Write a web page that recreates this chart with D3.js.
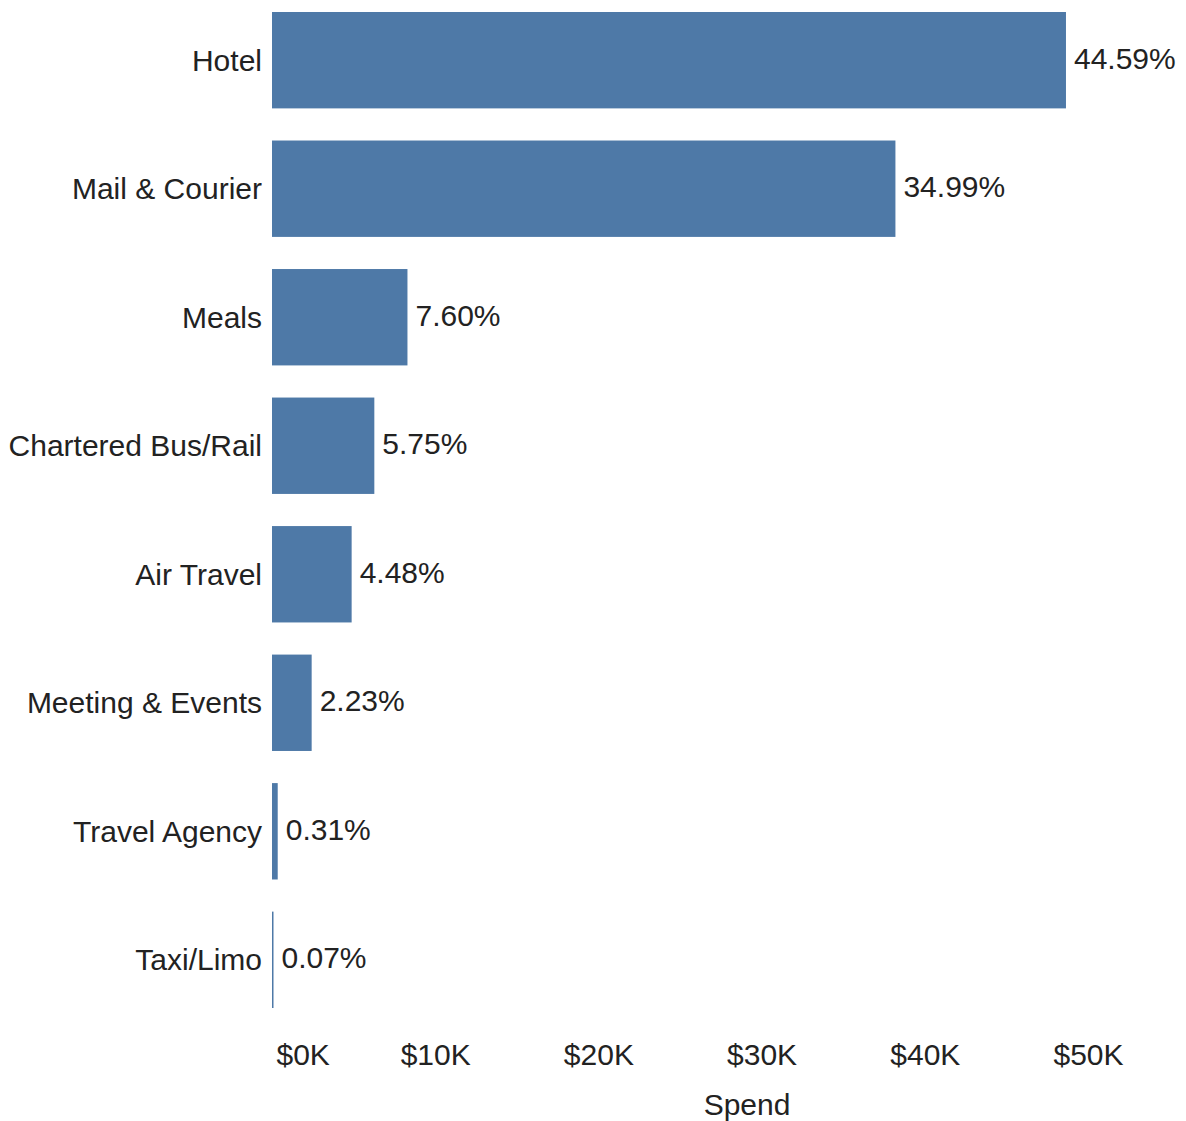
<!DOCTYPE html>
<html>
<head>
<meta charset="utf-8">
<script src="https://cdn.jsdelivr.net/npm/d3@7"></script>
<style>
  body { margin: 0; background: #fff; }
  text { font-family: "Liberation Sans", Arial, sans-serif; fill: #222; }
</style>
</head>
<body>
<svg id="chart" width="1186" height="1121"></svg>
<script>
// spend by category (in dollars)
var categories = ["Hotel", "Mail & Courier", "Meals", "Chartered Bus/Rail", "Air Travel", "Meeting & Events", "Travel Agency", "Taxi/Limo"];
var spend = [48650, 38200, 8300, 6270, 4880, 2430, 350, 90];
var shareLabels = ["44.59%", "34.99%", "7.60%", "5.75%", "4.48%", "2.23%", "0.31%", "0.07%"];
var tickValues = [0, 10000, 20000, 30000, 40000, 50000];

var barColor = "#4e79a7";
var fontSize = "30px";

var svg = d3.select("#chart");

var x = d3.scaleLinear()
  .domain([0, 58000])
  .range([272, 272 + 58 * 16.32]);

var y = d3.scaleBand()
  .domain(categories)
  .range([12, 1008])
  .paddingInner(0.25)
  .paddingOuter(0);

var rows = categories.map(function(c, i) {
  return { cat: c, value: spend[i], label: shareLabels[i] };
});

// bars
svg.append("g")
  .selectAll("rect")
  .data(rows)
  .enter()
  .append("rect")
  .attr("x", x(0))
  .attr("y", d => y(d.cat))
  .attr("width", d => Math.max(1.5, x(d.value) - x(0)))
  .attr("height", y.bandwidth())
  .attr("fill", barColor);

// value labels
svg.append("g")
  .selectAll("text")
  .data(rows)
  .enter()
  .append("text")
  .attr("x", d => x(d.value) + 8)
  .attr("y", d => y(d.cat) + y.bandwidth() / 2 - 2)
  .attr("dy", "0.35em")
  .style("font-size", fontSize)
  .text(d => d.label);

// category axis (no line, no ticks)
var yAxis = svg.append("g")
  .attr("transform", "translate(" + (x(0) - 10) + ",0)")
  .call(d3.axisLeft(y).tickSize(0).tickPadding(0));
yAxis.select(".domain").remove();
yAxis.selectAll("text")
  .attr("dy", "0.35em")
  .style("font-size", fontSize)
  .style("font-family", "'Liberation Sans', Arial, sans-serif")
  .attr("fill", "#222");

// spend axis
var xAxis = svg.append("g")
  .attr("transform", "translate(0,1030)")
  .call(d3.axisBottom(x)
    .tickValues(tickValues)
    .tickSize(0)
    .tickPadding(14)
    .tickFormat(d => "$" + d3.format("d")(d / 1000) + "K"));
xAxis.select(".domain").remove();
xAxis.selectAll("text")
  .style("font-size", fontSize)
  .style("font-family", "'Liberation Sans', Arial, sans-serif")
  .attr("fill", "#222");
// first label sits to the right of zero
xAxis.selectAll(".tick")
  .filter(d => d === 0)
  .select("text")
  .attr("text-anchor", "start")
  .attr("x", 4);

svg.append("text")
  .attr("x", 747)
  .attr("y", 1115)
  .attr("text-anchor", "middle")
  .style("font-size", fontSize)
  .text("Spend");
</script>
</body>
</html>
